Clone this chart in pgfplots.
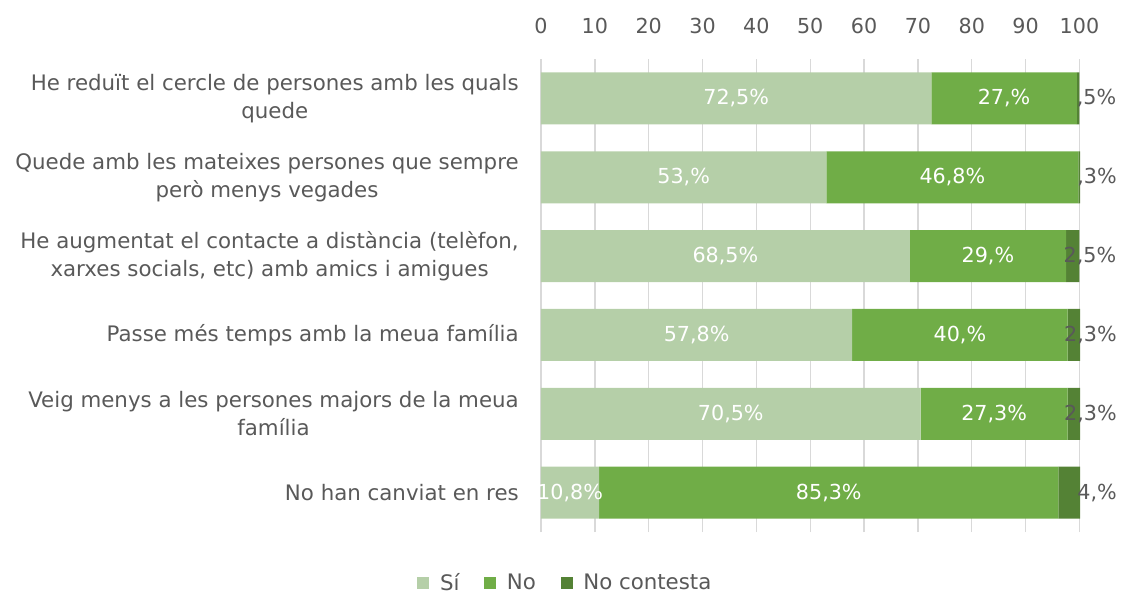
\documentclass[border=0pt]{standalone}
\usepackage{pgfplots}
\pgfplotsset{compat=1.18}
\usepackage{pgfplotstable}
\usepackage{fontspec}
\setmainfont{DejaVu Sans}
\definecolor{cSi}{HTML}{B5CFA8}
\definecolor{cNo}{HTML}{70AD47}
\definecolor{cNC}{HTML}{548235}
\definecolor{txt}{HTML}{595959}
\definecolor{grd}{HTML}{D9D9D9}
\newcommand{\fs}{\fontsize{15.5}{21}\selectfont}
\newcommand{\fl}{\fontsize{16}{21}\selectfont}
\pgfplotstableread{
row Si No NC lSi lNo lNC
5 72.5 27 0.5 72,5 27, ,5
4 53 46.8 0.3 53, 46,8 ,3
3 68.5 29 2.5 68,5 29, 2,5
2 57.8 40 2.3 57,8 40, 2,3
1 70.5 27.3 2.3 70,5 27,3 2,3
0 10.8 85.3 4 10,8 85,3 4,
}\data
\begin{document}
\begin{tikzpicture}
\begin{axis}[
 at={(405.75pt,-399pt)}, anchor=south west,
 scale only axis, width=404.25pt, height=354.75pt,
 xbar stacked, bar width=39pt, clip=false,
 xmin=0, xmax=100.1, ymin=-0.5, ymax=5.5,
 xtick={0,10,...,100}, xticklabel pos=upper,
 ytick={0,...,5},
 yticklabels={No han canviat en res,
   {Veig menys a les persones majors de la meua\\família},
   Passe més temps amb la meua família,
   {He augmentat el contacte a distància (telèfon,\\xarxes socials, etc) amb amics i amigues},
   {Quede amb les mateixes persones que sempre\\però menys vegades},
   {He reduït el cercle de persones amb les quals\\quede}},
 axis line style={draw=none}, major tick length=0pt,
 xmajorgrids, grid style={grd, line width=1pt},
 ticklabel style={font=\fs, text=txt},
 /pgf/number format/assume math mode=true,
 yticklabel style={align=center, inner sep=0pt, xshift=-16.5pt, font=\fl},
 xticklabel style={inner sep=0pt, yshift=18.5pt},
 point meta=explicit symbolic,
 legend style={draw=none, at={(0.046,-0.108)}, anchor=center, legend columns=3,
   font=\fl, text=txt, inner sep=0pt,
   /tikz/every odd column/.append style={column sep=6pt},
   /tikz/every even column/.append style={column sep=16.5pt}},
 legend image code/.code={\fill[#1] (0pt,-4.5pt) rectangle (9pt,4.5pt);},
]
\addplot[fill=cSi, draw=none,
  nodes near coords={\pgfplotspointmeta\%},
  every node near coord/.append style={anchor=center, text=white, font=\fs}]
  table[x=Si, y=row, meta=lSi] {\data};
\addlegendentry{Sí}
\addplot[fill=cNo, draw=none,
  nodes near coords={\pgfplotspointmeta\%},
  every node near coord/.append style={anchor=center, text=white, font=\fs}]
  table[x=No, y=row, meta=lNo] {\data};
\addlegendentry{No}
\addplot[fill=cNC, draw=none,
  nodes near coords={\pgfplotspointmeta\%},
  visualization depends on={\thisrow{NC} \as \w},
  every node near coord/.append style={anchor=east, inner sep=0pt, xshift={2.0192pt*\w+27.75pt}, text=txt, font=\fs}]
  table[x=NC, y=row, meta=lNC] {\data};
\addlegendentry{No contesta}
\end{axis}
\pgfresetboundingbox
\path (0,0) rectangle (841.5pt,-444.75pt);
\end{tikzpicture}
\end{document}
